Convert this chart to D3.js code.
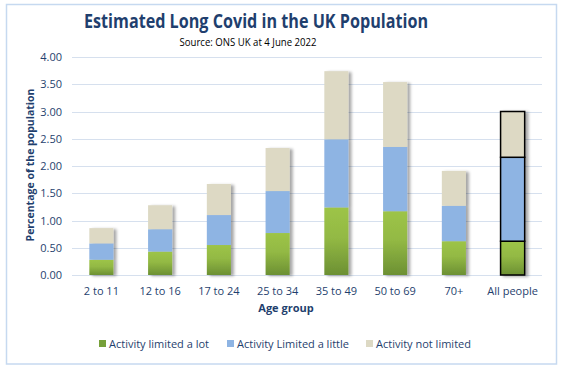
<!DOCTYPE html>
<html lang="en">
<head>
<meta charset="UTF-8">
<title>Estimated Long Covid</title>
<script src="https://d3js.org/d3.v7.min.js"></script>
<style>
    body { margin: 0; background: #fff; }
    text { font-family: 'Open Sans', sans-serif; fill: #1f3f6e; }
    .grid line { stroke: #d6e0ee; stroke-width: 1px; }
</style>
</head>
<body>
<script>
    const width = 571, height = 381;
    const margin = {left: 72, right: 29, top: 57, bottom: 106};

    const ageGroups = ['2 to 11', '12 to 16', '17 to 24', '25 to 34', '35 to 49', '50 to 69', '70+', 'All people'];
    const limitedLot = [0.28, 0.43, 0.55, 0.77, 1.24, 1.17, 0.62, 0.62];
    const limitedLittle = [0.30, 0.41, 0.55, 0.77, 1.25, 1.18, 0.65, 1.54];
    const notLimited = [0.28, 0.44, 0.57, 0.79, 1.25, 1.19, 0.64, 0.84];
    const seriesNames = ['Activity limited a lot', 'Activity Limited a little', 'Activity not limited'];
    const yTicks = [0, 0.5, 1, 1.5, 2, 2.5, 3, 3.5, 4];

    const colours = ['url(#greenGrad)', '#8eb4e3', '#ddd9c4'];
    const legendColours = ['#77a03a', '#8eb4e3', '#ddd9c4'];

    let rows = ageGroups.map(function(g, i) {
        return {group: g, lot: limitedLot[i], little: limitedLittle[i], not: notLimited[i]};
    });
    let stacked = d3.stack().keys(['lot', 'little', 'not'])(rows);

    let svg = d3.select('body').append('svg')
        .attr('width', width)
        .attr('height', height);

    let defs = svg.append('defs');
    let grad = defs.append('linearGradient')
        .attr('id', 'greenGrad')
        .attr('x1', 0).attr('y1', 0).attr('x2', 0).attr('y2', 1);
    grad.append('stop').attr('offset', '0%').attr('stop-color', '#9dc447');
    grad.append('stop').attr('offset', '45%').attr('stop-color', '#93b944');
    grad.append('stop').attr('offset', '100%').attr('stop-color', '#6c9033');

    let shadow = defs.append('filter').attr('id', 'shadow')
        .attr('x', '-20%').attr('y', '-10%').attr('width', '160%').attr('height', '130%');
    shadow.append('feDropShadow')
        .attr('dx', 3).attr('dy', 1).attr('stdDeviation', 1.8)
        .attr('flood-color', '#000').attr('flood-opacity', 0.35);

    // chart border
    svg.append('rect')
        .attr('x', 6.5).attr('y', 4.5)
        .attr('width', 550).attr('height', 359.5)
        .style('fill', '#fff')
        .style('stroke', '#c6d9f0')
        .style('stroke-width', 1.5);

    let x = d3.scaleBand()
        .domain(ageGroups)
        .range([margin.left, width - margin.right])
        .paddingInner(0.59)
        .paddingOuter(0.295);

    let y = d3.scaleLinear()
        .domain([0, 4])
        .range([height - margin.bottom, margin.top]);

    // gridlines
    svg.append('g')
        .attr('class', 'grid')
        .selectAll('line')
        .data(yTicks)
        .enter().append('line')
        .attr('x1', margin.left)
        .attr('x2', width - margin.right)
        .attr('y1', function(d) { return Math.round(y(d)) + 0.5; })
        .attr('y2', function(d) { return Math.round(y(d)) + 0.5; });

    // y tick labels
    svg.append('g')
        .selectAll('text')
        .data(yTicks)
        .enter().append('text')
        .attr('x', 62)
        .attr('y', function(d) { return y(d) + 4; })
        .attr('text-anchor', 'end')
        .style('font-size', '11px')
        .text(function(d) { return d.toFixed(2); });

    // bars
    let barGroups = svg.append('g').selectAll('g')
        .data(ageGroups)
        .enter().append('g')
        .attr('filter', 'url(#shadow)');

    barGroups.each(function(g, i) {
        let bg = d3.select(this);
        stacked.forEach(function(s, k) {
            bg.append('rect')
                .attr('x', x(g))
                .attr('width', x.bandwidth())
                .attr('y', y(s[i][1]))
                .attr('height', y(s[i][0]) - y(s[i][1]))
                .style('fill', colours[k])
                .style('stroke', g === 'All people' ? '#000' : 'none')
                .style('stroke-width', 1.5);
        });
    });

    // x labels
    svg.append('g')
        .selectAll('text')
        .data(ageGroups)
        .enter().append('text')
        .attr('x', function(d) { return x(d) + x.bandwidth() / 2; })
        .attr('y', 295)
        .attr('text-anchor', 'middle')
        .style('font-size', '11px')
        .text(function(d) { return d; });

    // axis titles
    svg.append('text')
        .attr('x', 286)
        .attr('y', 312)
        .attr('text-anchor', 'middle')
        .style('font-size', '11px')
        .style('font-weight', 'bold')
        .text('Age group');

    svg.append('text')
        .attr('transform', 'translate(34,165) rotate(-90)')
        .attr('text-anchor', 'middle')
        .style('font-size', '10.5px')
        .style('font-weight', 'bold')
        .text('Percentage of the population');

    // title
    svg.append('text')
        .attr('x', 256)
        .attr('y', 28)
        .attr('text-anchor', 'middle')
        .attr('textLength', 344)
        .attr('lengthAdjust', 'spacingAndGlyphs')
        .style('font-size', '20px')
        .style('font-weight', 'bold')
        .text('Estimated Long Covid in the UK Population');

    svg.append('text')
        .attr('x', 248)
        .attr('y', 46)
        .attr('text-anchor', 'middle')
        .attr('textLength', 137)
        .attr('lengthAdjust', 'spacingAndGlyphs')
        .style('font-size', '11px')
        .style('fill', '#000')
        .text('Source: ONS UK at 4 June 2022');

    // legend
    const legendX = [99, 227, 366];
    let legend = svg.append('g').selectAll('g')
        .data(seriesNames)
        .enter().append('g')
        .attr('transform', function(d, i) { return 'translate(' + legendX[i] + ',340)'; });

    legend.append('rect')
        .attr('width', 7)
        .attr('height', 7)
        .style('fill', function(d, i) { return legendColours[i]; });

    legend.append('text')
        .attr('x', 10)
        .attr('y', 7.5)
        .style('font-size', '11px')
        .text(function(d) { return d; });
</script>
</body>
</html>
